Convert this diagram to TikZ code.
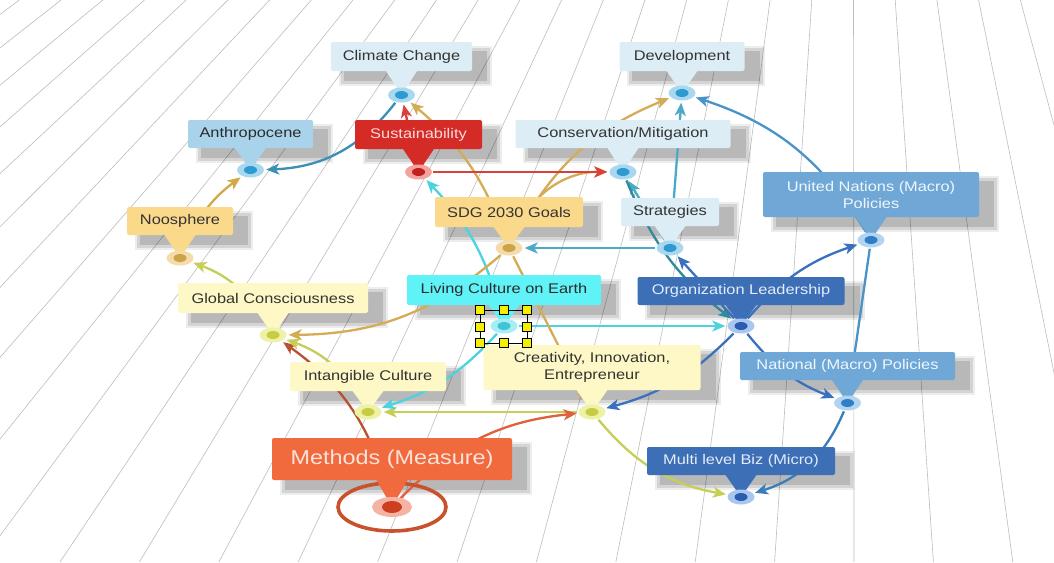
\documentclass[tikz,border=0pt]{standalone}
\usepackage{fontspec}
\newfontfamily\lab[FakeStretch=1.17]{Liberation Sans}
\usetikzlibrary{shapes.geometric,arrows.meta}
\pgfdeclarelayer{bgl}\pgfdeclarelayer{shl}\pgfdeclarelayer{edl}\pgfdeclarelayer{tll}\pgfdeclarelayer{dtl}
\pgfsetlayers{bgl,shl,edl,tll,dtl,main}
% box fill (F), text (T), halo (H), core (C)
\definecolor{pbF}{HTML}{DCEDF6}\definecolor{pbT}{HTML}{333333}\definecolor{pbH}{HTML}{A8D8F0}\definecolor{pbC}{HTML}{2E9AD0}
\definecolor{lbF}{HTML}{A9D3EA}\definecolor{lbT}{HTML}{2B2B2B}\definecolor{lbH}{HTML}{A8D8F0}\definecolor{lbC}{HTML}{2E9AD0}
\definecolor{rdF}{HTML}{D52B27}\definecolor{rdT}{HTML}{FBDADA}\definecolor{rdH}{HTML}{F2A39F}\definecolor{rdC}{HTML}{C41F1F}
\definecolor{mbF}{HTML}{6FA8D6}\definecolor{mbT}{HTML}{F0F6FC}\definecolor{mbH}{HTML}{B3D4F0}\definecolor{mbC}{HTML}{2F7FC8}
\definecolor{dbF}{HTML}{3D6FB7}\definecolor{dbT}{HTML}{E4EDF9}\definecolor{dbH}{HTML}{A9C6EE}\definecolor{dbC}{HTML}{2A5CB0}
\definecolor{tnF}{HTML}{FBD98B}\definecolor{tnT}{HTML}{333333}\definecolor{tnH}{HTML}{F3DCAA}\definecolor{tnC}{HTML}{CDA34A}
\definecolor{cyF}{HTML}{5FF2F7}\definecolor{cyT}{HTML}{2B2B2B}\definecolor{cyH}{HTML}{A6EEF4}\definecolor{cyC}{HTML}{3FC6D6}
\definecolor{pyF}{HTML}{FDF8C6}\definecolor{pyT}{HTML}{333333}\definecolor{pyH}{HTML}{EEF2A6}\definecolor{pyC}{HTML}{C8CC44}
\definecolor{orF}{HTML}{F06A3E}\definecolor{orT}{HTML}{FDE3DA}\definecolor{orH}{HTML}{F5B3A3}\definecolor{orC}{HTML}{CC4020}
\definecolor{ringC}{HTML}{C9522D}
\definecolor{hY}{HTML}{F5F000}
% connector colours
\definecolor{cCC}{HTML}{3A8FB5}
\definecolor{cRed}{HTML}{D8403A}
\definecolor{cTan}{HTML}{D4AC55}
\definecolor{cStr}{HTML}{4AAAC8}
\definecolor{cUN}{HTML}{4A93C8}
\definecolor{cCy}{HTML}{4CD2E0}
\definecolor{cCons}{HTML}{2F8A9C}
\definecolor{cOrg}{HTML}{3B70BE}
\definecolor{cNat}{HTML}{3A7DB8}
\definecolor{cYg}{HTML}{C5CE55}
\definecolor{cMethA}{HTML}{B9502F}
\definecolor{cMethB}{HTML}{E0603C}
\definecolor{cNoos}{HTML}{D2A84A}
\definecolor{bgLine}{HTML}{BDBDBD}

\newcommand{\mkcall}[8]{%
 % #1 name, #2 scheme, #3 cx, #4 cy, #5 w, #6 h, #7 dot y, #8 text
 \node[box=#2, minimum width=#5pt, minimum height=#6pt] (#1) at (#3,#4) {#8};
 \begin{pgfonlayer}{shl}
  \fill[black, opacity=.07] ([shift={(8,15)}]#1.south west) rectangle ([shift={(20,4)}]#1.north east);
  \fill[black, opacity=.10] ([shift={(10,13)}]#1.south west) rectangle ([shift={(18,6)}]#1.north east);
  \fill[black, opacity=.13] ([shift={(13,10)}]#1.south west) rectangle ([shift={(15,9)}]#1.north east);
 \end{pgfonlayer}
 \begin{pgfonlayer}{tll}
  \fill[#2F] ([xshift=-16pt,yshift=1pt]#1.south) -- (#3,#7) -- ([xshift=16pt,yshift=1pt]#1.south) -- cycle;
 \end{pgfonlayer}
 \begin{pgfonlayer}{dtl}
  \node[dotn=#2] (#1d) at (#3,#7) {};
 \end{pgfonlayer}
}

\begin{document}
\begin{tikzpicture}[x=1pt,y=-1pt,
  box/.style={rectangle, rounded corners=2pt, inner sep=0pt, align=center,
    font=\lab\fontsize{14}{17}\selectfont, fill=#1F, text=#1T},
  dotn/.style={ellipse, inner sep=0pt, minimum width=27pt, minimum height=15pt, fill=#1H,
    path picture={\fill[#1C] (path picture bounding box.center) ellipse (6.5pt and 4pt);}},
  conn/.style={line width=2.3pt, draw=#1, -{Stealth[length=13pt,width=11pt,inset=3.5pt]}, shorten >=2pt, shorten <=1pt},
  bgstroke/.style={draw=bgLine, line width=0.6pt},
  handle/.style={draw=black, fill=hY, line width=0.8pt}]
\useasboundingbox (0,0) rectangle (1054,562);

\begin{pgfonlayer}{bgl}
 \fill[white] (0,0) rectangle (1054,562);
 \begin{scope}
  \clip (0,0) rectangle (1054,562);
  \foreach \k in {-11,...,15}{
    \pgfmathsetmacro\xb{60+79.4*\k}
    \pgfmathsetmacro\xt{0.5253*\xb+404.9}
    \draw[bgstroke] (\xb,562) -- (\xt,0);
  }
 \end{scope}
\end{pgfonlayer}

% callouts
\mkcall{cc}{pb}{401.5}{56.5}{141}{29}{95}{Climate Change}
\mkcall{dev}{pb}{682}{56.5}{125}{29}{93}{Development}
\mkcall{anth}{lb}{250.5}{134}{125}{28}{170}{Anthropocene}
\mkcall{sust}{rd}{418.5}{134.5}{127}{29}{172}{Sustainability}
\mkcall{cons}{pb}{623}{134}{215}{28}{172}{Conservation/Mitigation}
\mkcall{un}{mb}{871}{194.5}{216}{45}{240}{United Nations (Macro)\\Policies}
\mkcall{noos}{tn}{180}{221}{106}{28}{258}{Noosphere}
\mkcall{sdg}{tn}{509}{212}{148}{30}{248}{SDG 2030 Goals}
\mkcall{strat}{pb}{670}{212}{98}{28}{248}{Strategies}
\mkcall{lc}{cy}{504}{290}{194}{30}{326}{Living Culture on Earth}
\mkcall{org}{db}{741}{291}{207}{28}{326}{Organization Leadership}
\mkcall{glob}{py}{273}{298}{190}{30}{335}{Global Consciousness}
\mkcall{creat}{py}{592}{367.5}{217}{45}{412}{Creativity, Innovation,\\Entrepreneur}
\mkcall{intg}{py}{368}{376.5}{156}{29}{412}{Intangible Culture}
\mkcall{nat}{mb}{847.5}{366}{215}{28}{403}{National (Macro) Policies}
\mkcall{meth}{or}{392}{459}{240}{42}{507}{{\fontsize{20}{24}\selectfont Methods (Measure)}}
\mkcall{multi}{db}{741}{461}{188}{28}{497}{Multi level Biz (Micro)}

% connectors
\begin{pgfonlayer}{edl}
 \draw[conn=cCC] (ccd) to[bend left=25] (anthd);
 \draw[conn=cRed] (sustd) -- (ccd);
 \draw[conn=cTan] (sdgd) to[bend right=15] (ccd);
 \draw[conn=cTan] (sdgd) to[bend left=20] (devd);
 \draw[conn=cTan] (sdgd) to[bend left=35] (consd);
 \draw[conn=cStr] (stratd) -- (devd);
 \draw[conn=cUN] (und) to[bend right=20] (devd);
 \draw[conn=cRed] (sustd) -- (consd);
 \draw[conn=cCy] (lcd) to[bend right=15] (sustd);
 \draw[conn=cStr] (stratd) -- (sdgd);
 \draw[conn=cStr] (stratd) -- (consd);
 \draw[conn=cCons] (consd) to[bend right=15] (orgd);
 \draw[conn=cCy] (lcd) -- (orgd);
 \draw[conn=cOrg] (orgd) -- (stratd);
 \draw[conn=cOrg] (orgd) to[bend left=15] (und);
 \draw[conn=cOrg] (orgd) to[bend left=15] (creatd);
 \draw[conn=cOrg] (orgd) to[bend right=15] (natd);
 \draw[conn=cUN] (und) -- (natd);
 \draw[conn=cNat] (natd) to[bend left=25] (multid);
 \draw[conn=cYg] (creatd) -- (intgd);
 \draw[conn=cYg] (creatd) to[bend right=20] (multid);
 \draw[conn=cCy] (lcd) to[bend left=15] (intgd);
 \draw[conn=cTan] (sdgd) to[bend left=20] (globd);
 \draw[conn=cTan] (sdgd) -- (creatd);
 \draw[conn=cMethA] (methd) to[bend right=20] (globd);
 \draw[conn=cMethB] (methd) to[bend left=20] (creatd);
 \draw[conn=cYg] (intgd) to[bend right=20] (globd);
 \draw[conn=cYg] (globd) to[bend right=20] (noosd);
 \draw[conn=cNoos] (noosd) to[bend left=15] (anthd);
 % target ring of Methods
 \draw[line width=3.6pt, draw=ringC] (methd.center) ellipse (54pt and 24pt);
\end{pgfonlayer}
\begin{pgfonlayer}{dtl}
 \fill[orH] (methd.center) ellipse (20pt and 10pt);
 \fill[orC] (methd.center) ellipse (10pt and 6pt);
\end{pgfonlayer}

% selection handles round the Living Culture marker
\draw[black, line width=0.8pt] (480,310) rectangle (527,343);
\foreach \hx/\hy in {480/310,503.5/310,527/310,480/326.5,527/326.5,480/343,503.5/343,527/343}
  \draw[handle] (\hx-4.5,\hy-4.5) rectangle (\hx+4.5,\hy+4.5);
\end{tikzpicture}
\end{document}
